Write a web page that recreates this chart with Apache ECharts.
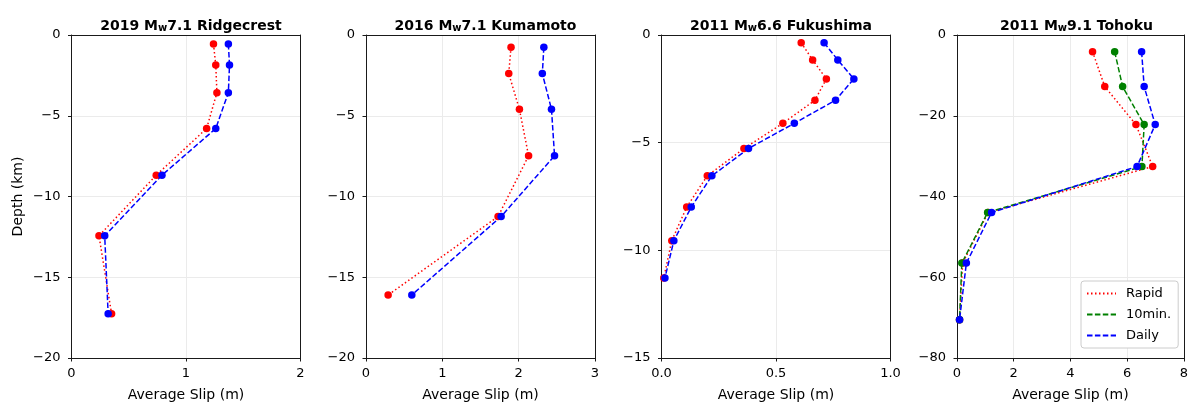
<!DOCTYPE html>
<html>
<head>
<meta charset="utf-8">
<script src="https://cdn.jsdelivr.net/npm/echarts@6/dist/echarts.min.js"></script>
<style>html,body{margin:0;padding:0;background:#fff}#c{width:1191px;height:408px}</style>
</head>
<body>
<div id="c"></div>
<script>
// ---- data (slip in m, depth in km) ----
const ridgecrestDepth = [-0.56, -1.86, -3.57, -5.79, -8.68, -12.43, -17.26];
const ridgecrestRapid = [1.24, 1.26, 1.27, 1.18, 0.74, 0.24, 0.35];
const ridgecrestDaily = [1.37, 1.38, 1.37, 1.26, 0.79, 0.29, 0.32];

const kumamotoDepth = [-0.76, -2.39, -4.60, -7.48, -11.24, -16.10];
const kumamotoRapid = [1.90, 1.87, 2.01, 2.13, 1.73, 0.29];
const kumamotoDaily = [2.33, 2.31, 2.43, 2.47, 1.77, 0.60];

const fukushimaDepth = [-0.36, -1.16, -2.04, -3.03, -4.10, -5.27, -6.54, -7.99, -9.55, -11.28];
const fukushimaRapid = [0.61, 0.66, 0.72, 0.67, 0.53, 0.36, 0.20, 0.11, 0.045, 0.01];
const fukushimaDaily = [0.71, 0.77, 0.84, 0.76, 0.58, 0.38, 0.22, 0.13, 0.054, 0.015];

const tohokuDepth = [-4.12, -12.78, -22.19, -32.58, -43.96, -56.5, -70.5];
const tohokuRapid = [4.78, 5.21, 6.31, 6.90, 1.10, 0.20, 0.09];
const tohoku10min = [5.56, 5.84, 6.60, 6.52, 1.08, 0.17, 0.09];
const tohokuDaily = [6.51, 6.60, 6.99, 6.35, 1.22, 0.33, 0.09];

const panelTitles = [
  ['2019 M', 'w', '7.1 Ridgecrest'],
  ['2016 M', 'w', '7.1 Kumamoto'],
  ['2011 M', 'w', '6.6 Fukushima'],
  ['2011 M', 'w', '9.1 Tohoku']
];
const xRanges = [[0, 2, 1], [0, 3, 1], [0, 1, 0.5], [0, 8, 2]];
const yRanges = [[-20, 0, 5], [-20, 0, 5], [-15, 0, 5], [-80, 0, 20]];
const xLabel = 'Average Slip (m)';
const yLabel = 'Depth (km)';
const legendNames = ['Rapid', '10min.', 'Daily'];

// ---- build ----
const gridLefts = [71.5, 366, 661.5, 957];
const gridW = 229, gridTop = 35, gridH = 323;
const FONT = 'DejaVu Sans';
const SPINE = '#1a1a1a';

function pairs(xs, ys) { return xs.map((v, i) => [v, ys[i]]); }
const minus = s => String(s).replace('-', '\u2212');

const styles = {
  'Rapid': { color: '#ff0000', type: [1.5, 2.5] },
  '10min.': { color: '#008000', type: [5.5, 2.4] },
  'Daily': { color: '#0000ff', type: [5.5, 2.4] }
};
function mk(name, gi, data) {
  const s = styles[name];
  return {
    name, type: 'line', xAxisIndex: gi * 2, yAxisIndex: gi * 2, data,
    symbol: 'circle', symbolSize: 7.5, showSymbol: true,
    lineStyle: { color: s.color, width: 1.5, type: s.type },
    itemStyle: { color: s.color },
    z: 3
  };
}

const panelSeries = [
  [['Rapid', pairs(ridgecrestRapid, ridgecrestDepth)], ['Daily', pairs(ridgecrestDaily, ridgecrestDepth)]],
  [['Rapid', pairs(kumamotoRapid, kumamotoDepth)], ['Daily', pairs(kumamotoDaily, kumamotoDepth)]],
  [['Rapid', pairs(fukushimaRapid, fukushimaDepth)], ['Daily', pairs(fukushimaDaily, fukushimaDepth)]],
  [['Rapid', pairs(tohokuRapid, tohokuDepth)], ['10min.', pairs(tohoku10min, tohokuDepth)], ['Daily', pairs(tohokuDaily, tohokuDepth)]]
];

const grid = [], xAxis = [], yAxis = [], series = [], title = [];
for (let i = 0; i < 4; i++) {
  grid.push({ left: gridLefts[i], top: gridTop, width: gridW, height: gridH, show: false });
  const xr = xRanges[i], yr = yRanges[i];
  xAxis.push({
    type: 'value', gridIndex: i, min: xr[0], max: xr[1], interval: xr[2], position: 'bottom',
    name: xLabel, nameLocation: 'middle', nameGap: 30,
    nameTextStyle: { fontFamily: FONT, fontSize: 14, color: '#000' },
    axisLine: { show: true, onZero: false, lineStyle: { color: SPINE, width: 1 } },
    axisTick: { show: true, length: 3.5, lineStyle: { color: SPINE } },
    axisLabel: { fontFamily: FONT, fontSize: 13, color: '#000', margin: 9,
      formatter: v => i === 2 ? v.toFixed(1) : minus(v) },
    splitLine: { show: true, lineStyle: { color: '#ebebeb', width: 1 } },
    z: 1
  });
  // top spine
  xAxis.push({
    type: 'value', gridIndex: i, min: xr[0], max: xr[1], interval: xr[2], position: 'top',
    axisLine: { show: true, onZero: false, lineStyle: { color: SPINE, width: 1 } },
    axisTick: { show: false }, axisLabel: { show: false }, splitLine: { show: false }, z: 4
  });
  yAxis.push({
    type: 'value', gridIndex: i, min: yr[0], max: yr[1], interval: yr[2], position: 'left',
    name: i === 0 ? yLabel : '', nameLocation: 'middle', nameGap: 46, nameRotate: 90,
    nameTextStyle: { fontFamily: FONT, fontSize: 14, color: '#000' },
    axisLine: { show: true, onZero: false, lineStyle: { color: SPINE, width: 1 } },
    axisTick: { show: true, length: 3.5, lineStyle: { color: SPINE } },
    axisLabel: { fontFamily: FONT, fontSize: 13, color: '#000', margin: 11,
      formatter: v => minus(v) },
    splitLine: { show: true, lineStyle: { color: '#ebebeb', width: 1 } },
    z: 1
  });
  // right spine
  yAxis.push({
    type: 'value', gridIndex: i, min: yr[0], max: yr[1], interval: yr[2], position: 'right',
    axisLine: { show: true, onZero: false, lineStyle: { color: SPINE, width: 1 } },
    axisTick: { show: false }, axisLabel: { show: false }, splitLine: { show: false }, z: 4
  });
  panelSeries[i].forEach(([n, d]) => series.push(mk(n, i, d)));
  const t = panelTitles[i];
  title.push({
    text: '{a|' + t[0] + '}{s|' + t[1] + '}{a|' + t[2] + '}',
    left: gridLefts[i] + gridW / 2, top: 10, textAlign: 'center',
    textStyle: {
      rich: {
        a: { fontFamily: FONT, fontSize: 14, fontWeight: 'bold', color: '#000', lineHeight: 18, verticalAlign: 'bottom' },
        s: { fontFamily: FONT, fontSize: 10, fontWeight: 'bold', color: '#000', lineHeight: 14, verticalAlign: 'bottom', padding: [3, 0, 0, 0] }
      }
    }
  });
}

const chart = echarts.init(document.getElementById('c'), null, { renderer: 'canvas' });
chart.setOption({
  animation: false,
  backgroundColor: '#fff',
  title, grid, xAxis, yAxis, series,
  legend: {
    data: legendNames,
    orient: 'vertical', left: 1081, top: 281,
    itemWidth: 29, itemHeight: 10, itemGap: 8,
    padding: [6, 7, 6, 5],
    backgroundColor: '#fff', borderColor: '#cccccc', borderWidth: 1, borderRadius: 3,
    itemStyle: { opacity: 0 },
    formatter: n => '{t|' + n + '}',
    textStyle: { fontFamily: FONT, fontSize: 13, color: '#000',
      rich: { t: { fontFamily: FONT, fontSize: 13, color: '#000', padding: [0, 0, 0, 5] } } }
  }
});
</script>
</body>
</html>
